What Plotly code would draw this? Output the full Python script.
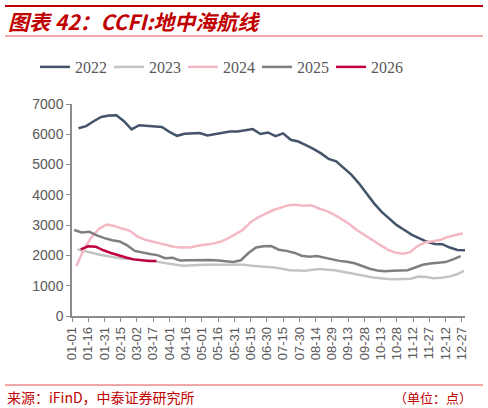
import pandas as pd
import plotly.graph_objects as go

# CCFI 地中海航线, weekly (Friday) readings, one list per year
years = ["2022", "2023", "2024", "2025", "2026"]
first_dates = ["2022-01-07", "2023-01-06", "2024-01-05", "2025-01-03", "2026-01-09"]

ccfi_2022 = [6200, 6270, 6430, 6570, 6620, 6630, 6430, 6160, 6300, 6280, 6260, 6240,
             6080, 5950, 6020, 6040, 6040, 5960, 6010, 6050, 6090, 6090, 6120, 6170,
             6010, 6060, 5940, 6030, 5820, 5760, 5640, 5520, 5370, 5190, 5110, 4880,
             4670, 4380, 4050, 3720, 3440, 3230, 3000, 2840, 2680, 2560, 2450, 2380,
             2370, 2260, 2180, 2170]
ccfi_2023 = [2200, 2150, 2080, 2020, 1970, 1930, 1900, 1880, 1870, 1850, 1820, 1770,
             1720, 1690, 1660, 1660, 1680, 1690, 1690, 1690, 1700, 1700, 1690, 1660,
             1640, 1630, 1600, 1560, 1510, 1500, 1490, 1530, 1550, 1530, 1510, 1460,
             1420, 1370, 1320, 1270, 1240, 1220, 1210, 1220, 1230, 1300, 1290, 1250,
             1260, 1300, 1370, 1490]
ccfi_2024 = [1650, 2200, 2600, 2880, 3020, 2970, 2890, 2820, 2640, 2520, 2460, 2400,
             2330, 2280, 2260, 2260, 2320, 2350, 2390, 2450, 2560, 2700, 2850, 3100,
             3260, 3380, 3500, 3580, 3660, 3670, 3640, 3660, 3550, 3470, 3350, 3200,
             3040, 2840, 2680, 2520, 2370, 2200, 2100, 2060, 2100, 2300, 2430, 2480,
             2510, 2610, 2680, 2730]
ccfi_2025 = [2840, 2760, 2780, 2660, 2570, 2500, 2460, 2330, 2150, 2090, 2050, 2010,
             1910, 1920, 1830, 1840, 1850, 1850, 1850, 1830, 1800, 1780, 1840, 2080,
             2260, 2300, 2310, 2190, 2150, 2090, 1990, 1960, 1980, 1920, 1880, 1820,
             1790, 1740, 1650, 1560, 1500, 1480, 1490, 1500, 1510, 1600, 1690, 1730,
             1750, 1780, 1870, 1980]
ccfi_2026 = [2200, 2300, 2290, 2170, 2080, 2000, 1930, 1870, 1840, 1820, 1820]

series = [ccfi_2022, ccfi_2023, ccfi_2024, ccfi_2025, ccfi_2026]

tick_labels = ["01-01", "01-16", "01-31", "02-15", "03-02", "03-17", "04-01", "04-16",
               "05-01", "05-16", "05-31", "06-15", "06-30", "07-15", "07-30", "08-14",
               "08-29", "09-13", "09-28", "10-13", "10-28", "11-12", "11-27", "12-12",
               "12-27"]
tick_step_days = 15

colors = ["#44546a", "#c3c3c3", "#f4b8c4", "#7f7f7f", "#c0003c"]
red = "#c00000"

W, H = 488, 408
L, R, T, B = 72, 23, 104, 92


def px_x(px):
    return (px - L) / (W - L - R)


def px_y(py):
    return (H - B - py) / (H - T - B)


fig = go.Figure()
for name, start, vals, col in zip(years, first_dates, series, colors):
    dates = pd.date_range(start, periods=len(vals), freq="7D")
    day = (dates - pd.Timestamp(int(name), 1, 1)).days
    fig.add_trace(go.Scatter(x=list(day), y=vals, mode="lines", name=name,
                             line=dict(color=col, width=2.5)))

axis_style = dict(showline=True, linecolor="#8c8c8c", linewidth=1.5, ticks="outside",
                  ticklen=4, tickcolor="#8c8c8c", showgrid=False, zeroline=False,
                  tickfont=dict(family="Liberation Sans", size=14, color="#595959"))

fig.update_xaxes(tickmode="array",
                 tickvals=[i * tick_step_days for i in range(len(tick_labels))],
                 ticktext=tick_labels, tickangle=-90, range=[0, 363], **axis_style)
fig.update_yaxes(range=[0, 7000], dtick=1000, **axis_style)
fig.update_xaxes(tickfont_size=13)

fig.update_layout(
    width=W, height=H, margin=dict(l=L, r=R, t=T, b=B, autoexpand=False),
    plot_bgcolor="white", paper_bgcolor="white",
    showlegend=True,
    legend=dict(orientation="h", xref="container", x=35 / W, xanchor="left",
                y=px_y(67), yanchor="middle", entrywidth=29, entrywidthmode="pixels",
                font=dict(family="Liberation Serif", size=16, color="#595959")),
    annotations=[
        dict(text="<b><i>图表 42：CCFI:地中海航线</i></b>", xref="paper", yref="paper",
             x=px_x(6), y=px_y(21), xanchor="left", yanchor="middle", showarrow=False,
             font=dict(family="Noto Sans CJK SC", size=21, color=red)),
        dict(text="来源：iFinD，中泰证券研究所", xref="paper", yref="paper",
             x=px_x(5), y=px_y(397), xanchor="left", yanchor="middle", showarrow=False,
             font=dict(family="Noto Sans CJK SC", size=14, color=red)),
        dict(text="（单位：点）", xref="paper", yref="paper",
             x=px_x(474), y=px_y(397), xanchor="right", yanchor="middle", showarrow=False,
             font=dict(family="Noto Sans CJK SC", size=13, color=red)),
    ],
    shapes=[
        dict(type="line", xref="paper", yref="paper", x0=px_x(5), x1=px_x(483),
             y0=px_y(6), y1=px_y(6), line=dict(color=red, width=2)),
        dict(type="line", xref="paper", yref="paper", x0=px_x(5), x1=px_x(483),
             y0=px_y(36), y1=px_y(36), line=dict(color="#e05050", width=1)),
        dict(type="line", xref="paper", yref="paper", x0=px_x(5), x1=px_x(483),
             y0=px_y(385), y1=px_y(385), line=dict(color="#e05050", width=1)),
    ],
)

# page body has an 8px default margin; drop it so the figure sits at the window corner
fig.write_html("out.html", config={"displayModeBar": False},
               post_script="document.body.style.margin = '0';")
